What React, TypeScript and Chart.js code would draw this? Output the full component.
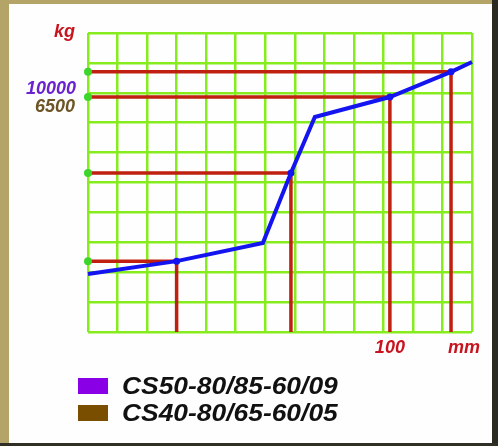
import React, { useEffect, useRef } from "react";
import { Chart, registerables } from "chart.js";

Chart.register(...registerables);

// Grid extents (grid units)
const xGridMax = 13;
const yGridMax = 10;

// Blue characteristic curve (grid units)
const curveX = [0, 3.0, 5.92, 6.87, 7.68, 10.22, 12.29, 13];
const curveY = [1.94, 2.37, 2.98, 5.32, 7.19, 7.86, 8.7, 9.03];

// Marked reading points (with red guide lines)
const markX = [3.0, 6.87, 10.22, 12.29];
const markY = [2.37, 5.32, 7.86, 8.7];

// Text labels
const yUnit = "kg";
const xUnit = "mm";
const yLabels = ["10000", "6500"];
const xLabel = "100";
const legendNames = ["CS50-80/85-60/09", "CS40-80/65-60/05"];
const legendColors = ["#8a00e6", "#7a4e00"];

const FONT = "'Liberation Sans', Arial, sans-serif";

const labelPlugin = {
  id: "labels",
  afterDraw(chart: any) {
    const { ctx, scales } = chart;
    const xs = scales.x;
    const ys = scales.y;
    const left = xs.getPixelForValue(0);
    const bottom = ys.getPixelForValue(0);
    ctx.save();
    ctx.font = `italic bold 18px ${FONT}`;
    ctx.textBaseline = "middle";
    ctx.textAlign = "right";
    ctx.fillStyle = "#c8141e";
    ctx.fillText(yUnit, left - 13, ys.getPixelForValue(yGridMax) - 1);
    const yRef = ys.getPixelForValue(markY[2]);
    ctx.fillStyle = "#6a22d0";
    ctx.fillText(yLabels[0], left - 12, yRef - 8);
    ctx.fillStyle = "#6e5526";
    ctx.fillText(yLabels[1], left - 13, yRef + 10);
    ctx.textAlign = "center";
    ctx.fillStyle = "#c8141e";
    ctx.fillText(xLabel, xs.getPixelForValue(markX[2]), bottom + 16);
    ctx.fillText(xUnit, xs.getPixelForValue(xGridMax) - 8, bottom + 16);
    ctx.restore();
  },
};

export default function App() {
  const ref = useRef<HTMLCanvasElement | null>(null);

  useEffect(() => {
    if (!ref.current) return;
    const guideSets = markX.map((mx, i) => ({
      type: "line" as const,
      data: [
        { x: 0, y: markY[i] },
        { x: mx, y: markY[i] },
        { x: mx, y: 0 },
      ],
      borderColor: "#bf2010",
      borderWidth: 3.5,
      pointRadius: 0,
      tension: 0,
      clip: false as any,
      order: 3,
    }));
    const chart = new Chart(ref.current, {
      type: "line",
      data: {
        datasets: [
          {
            data: curveX.map((x, i) => ({ x, y: curveY[i] })),
            borderColor: "#1414f0",
            backgroundColor: "#1414f0",
            borderWidth: 4,
            pointRadius: curveX.map((x) => (markX.includes(x) ? 3.5 : 0)),
            pointBorderWidth: 0,
            tension: 0,
            clip: false as any,
            order: 0,
          },
          {
            data: markY.map((y) => ({ x: 0, y })),
            showLine: false,
            backgroundColor: "#3cd62a",
            borderColor: "#3cd62a",
            pointRadius: 4,
            pointBorderWidth: 0,
            clip: false as any,
            order: 1,
          },
          ...guideSets,
        ] as any,
      },
      options: {
        responsive: false,
        animation: false,
        devicePixelRatio: 1,
        layout: { padding: { left: 88, top: 33, right: 26, bottom: 114 } },
        plugins: { legend: { display: false }, tooltip: { enabled: false } },
        scales: {
          x: {
            type: "linear",
            min: 0,
            max: xGridMax,
            ticks: { display: false, stepSize: 1 },
            grid: { color: "#86ec1e", lineWidth: 2.5, drawTicks: false },
            border: { display: false },
          },
          y: {
            type: "linear",
            min: 0,
            max: yGridMax,
            ticks: { display: false, stepSize: 1 },
            grid: { color: "#86ec1e", lineWidth: 2.5, drawTicks: false },
            border: { display: false },
          },
        },
      },
      plugins: [labelPlugin],
    });
    return () => chart.destroy();
  }, []);

  return (
    <div
      style={{
        position: "fixed",
        left: 0,
        top: 0,
        width: 498,
        height: 446,
        background: "#b4a467",
        overflow: "hidden",
      }}
    >
      <div style={{ position: "absolute", left: 492, top: 0, width: 6, height: 446, background: "#2a2a20" }} />
      <div style={{ position: "absolute", left: 0, top: 443, width: 498, height: 3, background: "#2f2f26" }} />
      <div style={{ position: "absolute", left: 9, top: 4, width: 483, height: 439, background: "#fefefe" }} />
      <canvas ref={ref} width={498} height={446} style={{ position: "absolute", left: 0, top: 0 }} />
      {legendNames.map((name, i) => (
        <div key={name}>
          <div
            style={{
              position: "absolute",
              left: 78,
              top: 378 + i * 27,
              width: 30,
              height: 16,
              background: legendColors[i],
            }}
          />
          <div
            style={{
              position: "absolute",
              left: 122,
              top: 373 + i * 27,
              font: `italic bold 24px ${FONT}`,
              lineHeight: "26px",
              color: "#111",
              whiteSpace: "nowrap",
              transform: "scaleX(1.1)",
              transformOrigin: "left center",
            }}
          >
            {name}
          </div>
        </div>
      ))}
    </div>
  );
}
